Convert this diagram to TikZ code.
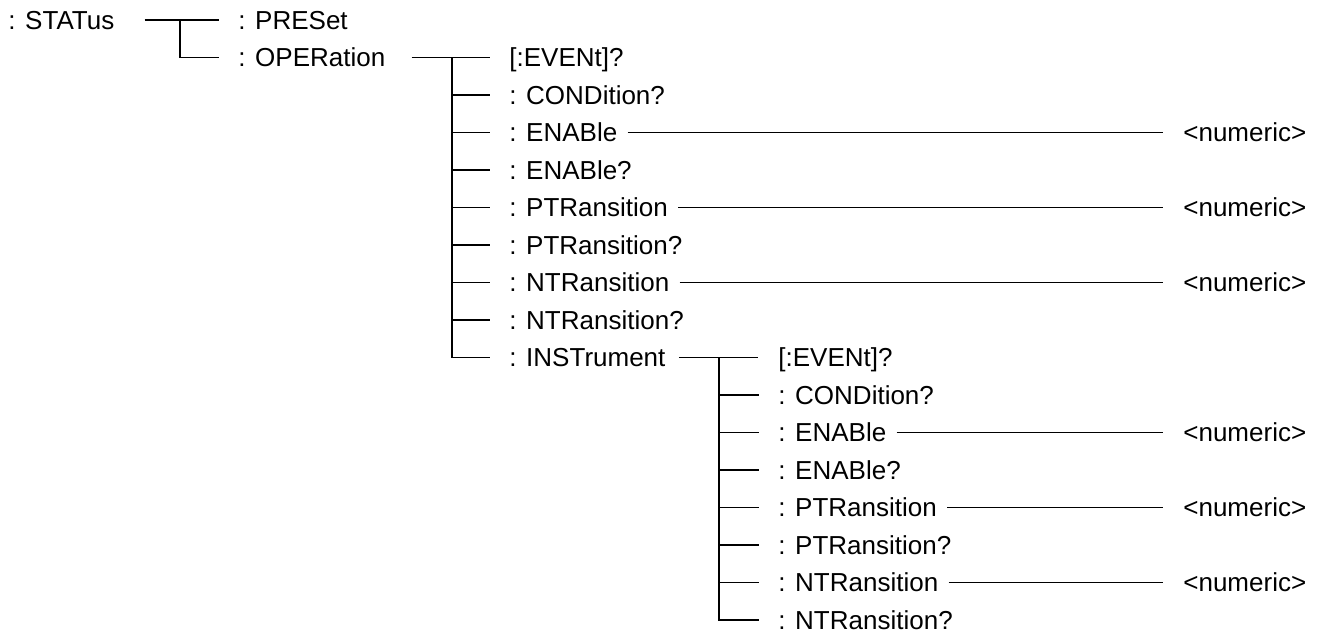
\documentclass[tikz,border=0pt]{standalone}
\usepackage{fontspec}
\setmainfont{Liberation Sans}
\usepackage{tikz}
\usetikzlibrary{calc}
\tikzset{
    cmd/.style={anchor=west, inner sep=0pt, text height=10.7pt, text depth=0pt,
        font=\fontsize{14.8pt}{18pt}\selectfont},
    tree/.style={line width=0.8pt},
    branch/.style={tree, shorten >=0.38cm},
    lead/.style={tree, shorten <=0.2cm, shorten >=0.4cm}
}

\begin{document}
\begin{tikzpicture}[x=0.02cm, y=-0.02cm]
    \useasboundingbox (0,0) rectangle (1317,634);
    % first level
    \node[cmd] (status) at (8,20) {: STATus};
    \node[cmd] (preset) at (238,20) {: PRESet};
    \node[cmd] (oper) at (238,57.5) {: OPERation};
    \coordinate (t1) at (180,20);
    \draw[tree, shorten <=0.6cm, shorten >=0.38cm] (status.east) -- (preset.west);
    \draw[branch] (t1) |- (oper.west);
    % OPERation subtree
    \node[cmd] (oevent) at (509,57.5) {[:EVENt]?};
    \node[cmd] (ocond) at (509,95) {: CONDition?};
    \node[cmd] (oenab) at (509,132.5) {: ENABle};
    \node[cmd] (oenabq) at (509,170) {: ENABle?};
    \node[cmd] (optr) at (509,207.5) {: PTRansition};
    \node[cmd] (optrq) at (509,245) {: PTRansition?};
    \node[cmd] (ontr) at (509,282.5) {: NTRansition};
    \node[cmd] (ontrq) at (509,320) {: NTRansition?};
    \node[cmd] (oinst) at (509,357.5) {: INSTrument};
    \coordinate (t2) at (452,57.5);
    \draw[tree, shorten <=0.52cm, shorten >=0.38cm] (oper.east) -- (oevent.west);
    \draw[branch] (t2) |- (oinst.west);
    \foreach \n in {ocond,oenab,oenabq,optr,optrq,ontr,ontrq}
        \draw[branch] (t2 |- \n.west) -- (\n.west);
    % INSTrument subtree
    \node[cmd] (ievent) at (778,357.5) {[:EVENt]?};
    \node[cmd] (icond) at (778,395) {: CONDition?};
    \node[cmd] (ienab) at (778,432.5) {: ENABle};
    \node[cmd] (ienabq) at (778,470) {: ENABle?};
    \node[cmd] (iptr) at (778,507.5) {: PTRansition};
    \node[cmd] (iptrq) at (778,545) {: PTRansition?};
    \node[cmd] (intr) at (778,582.5) {: NTRansition};
    \node[cmd] (intrq) at (778,620) {: NTRansition?};
    \coordinate (t3) at (719,357.5);
    \draw[tree, shorten <=0.26cm, shorten >=0.4cm] (oinst.east) -- (ievent.west);
    \draw[branch] (t3) |- (intrq.west);
    \foreach \n in {icond,ienab,ienabq,iptr,iptrq,intr}
        \draw[branch] (t3 |- \n.west) -- (\n.west);
    % parameters
    \node[cmd] (onum1) at (1183,132.5) {<numeric>};
    \node[cmd] (onum2) at (1183,207.5) {<numeric>};
    \node[cmd] (onum3) at (1183,282.5) {<numeric>};
    \node[cmd] (inum1) at (1183,432.5) {<numeric>};
    \node[cmd] (inum2) at (1183,507.5) {<numeric>};
    \node[cmd] (inum3) at (1183,582.5) {<numeric>};
    \draw[lead] (oenab.east) -- (onum1.west);
    \draw[lead] (optr.east) -- (onum2.west);
    \draw[lead] (ontr.east) -- (onum3.west);
    \draw[lead] (ienab.east) -- (inum1.west);
    \draw[lead] (iptr.east) -- (inum2.west);
    \draw[lead] (intr.east) -- (inum3.west);
\end{tikzpicture}
\end{document}
